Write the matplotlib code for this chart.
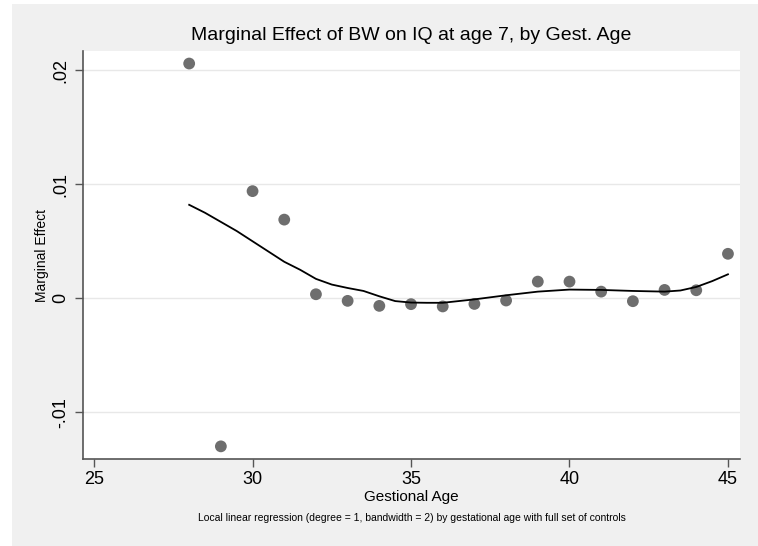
import numpy as np
import matplotlib
matplotlib.use('Agg')
import matplotlib.pyplot as plt
from matplotlib.patches import Rectangle

plt.rcParams['font.family'] = ['Liberation Sans', 'DejaVu Sans']

# Point estimates by gestational age
gest_age = [28, 29, 30, 31, 32, 33, 34, 35, 36, 37, 38, 39, 40, 41, 42, 43, 44, 45]
marg_eff = [0.0206, -0.0130, 0.0094, 0.0069, 0.00035, -0.00023, -0.00067, -0.00052, -0.00072,
            -0.00050, -0.00020, 0.00146, 0.00146, 0.00058, -0.00026, 0.00073, 0.00070, 0.0039]

# Local linear smooth
smooth_x = [28, 28.5, 29, 29.5, 30, 30.5, 31, 31.5, 32, 32.5, 33, 33.5, 34, 34.5, 35, 35.5, 36,
            37, 38, 39, 40, 41, 42, 43, 43.5, 44, 44.5, 45]
smooth_y = [0.0082, 0.0075, 0.0067, 0.0059, 0.0050, 0.0041, 0.0032, 0.0025, 0.0017, 0.0012, 0.0009,
            0.00064, 0.00017, -0.00025, -0.00038, -0.0004, -0.0004, -0.0001, 0.00026, 0.00058, 0.00076,
            0.00073, 0.00064, 0.00058, 0.00068, 0.00099, 0.0015, 0.0021]

yticks = [-0.01, 0, 0.01, 0.02]
ytick_labels = ['-.01', '0', '.01', '.02']
xticks = [25, 30, 35, 40, 45]

W, H = 758, 546
fig = plt.figure(figsize=(W / 100, H / 100), dpi=100, facecolor='white')
# Stata-like grey graph region
fig.patches.append(Rectangle((12 / W, 0), 1 - 12 / W, 1 - 4 / H, transform=fig.transFigure,
                             facecolor='#f0f0f0', edgecolor='none', zorder=-10))

ax = fig.add_axes([83 / W, 1 - 459 / H, (740 - 83) / W, (459 - 51) / H])
ax.set_facecolor('white')

ax.scatter(gest_age, marg_eff, s=72, color='#6e6e6e', edgecolors='none', zorder=3)
ax.plot(smooth_x, smooth_y, color='black', lw=1.3, zorder=4)

ax.set_xlim(24.65, 45.38)
ax.set_ylim(-0.01411, 0.0217)
ax.set_xticks(xticks)
ax.set_yticks(yticks)
ax.set_yticklabels(ytick_labels, rotation=90, va='center')
ax.tick_params(axis='both', direction='out', length=6, width=1, color='#555555',
               labelsize=13, labelcolor='black')
ax.tick_params(axis='y', pad=4)
ax.tick_params(axis='x', pad=3)
ax.grid(axis='y', color='#e8e8e8', lw=1)
ax.set_axisbelow(True)
for side in ['top', 'right']:
    ax.spines[side].set_visible(False)
for side in ['left', 'bottom']:
    ax.spines[side].set_color('#555555')
    ax.spines[side].set_linewidth(1.2)

cx = (83 + 740) / 2 / W
fig.text(cx, 1 - 36 / H, 'Marginal Effect of BW on IQ at age 7, by Gest. Age',
         ha='center', va='center', fontsize=14)
fig.text(cx, 1 - 497 / H, 'Gestional Age', ha='center', va='center', fontsize=11)
fig.text(cx, 1 - 518 / H,
         'Local linear regression (degree = 1, bandwidth = 2) by gestational age with full set of controls',
         ha='center', va='center', fontsize=7.5)
fig.text(42 / W, 1 - 255 / H, 'Marginal Effect', rotation=90, ha='center', va='center', fontsize=10)

fig.savefig('out.png', dpi=100, facecolor=fig.get_facecolor())
